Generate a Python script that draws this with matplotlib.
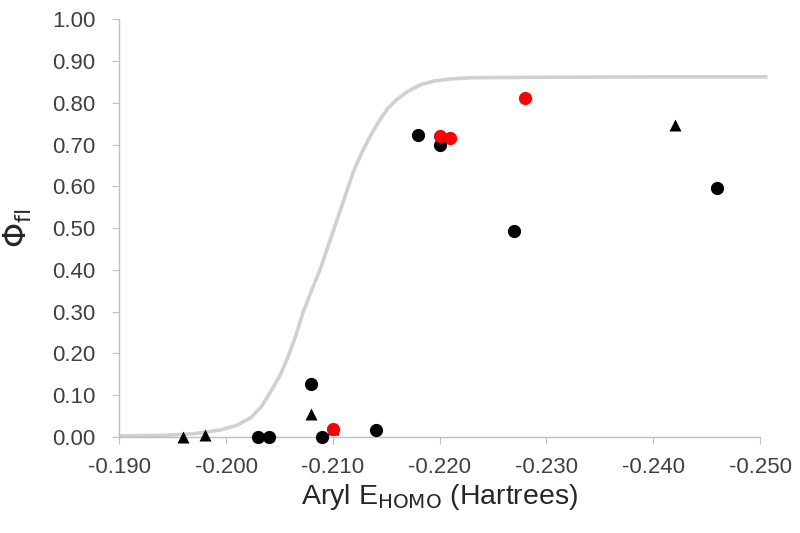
import matplotlib
matplotlib.use("Agg")
import matplotlib.pyplot as plt

# data
circ_x = [-0.203, -0.204, -0.208, -0.209, -0.214, -0.218, -0.220, -0.227, -0.246]
circ_y = [0.000, 0.000, 0.127, 0.000, 0.018, 0.722, 0.698, 0.493, 0.597]

tri_x = [-0.196, -0.198, -0.208, -0.210, -0.242]
tri_y = [0.000, 0.005, 0.055, 0.020, 0.746]

red_x = [-0.210, -0.220, -0.221, -0.228]
red_y = [0.020, 0.720, 0.716, 0.812]

# fitted curve
curve_x = [-0.1900, -0.1940, -0.1970, -0.1995, -0.2010, -0.2023, -0.2033, -0.2041,
           -0.2050, -0.2057, -0.2065, -0.2072, -0.2080, -0.2088, -0.2096, -0.2104,
           -0.2112, -0.2119, -0.2127, -0.2135, -0.2143, -0.2151, -0.2160, -0.2170,
           -0.2182, -0.2195, -0.2210, -0.2230, -0.2300, -0.2400, -0.2507]
curve_y = [0.003, 0.004, 0.008, 0.017, 0.028, 0.046, 0.072, 0.105,
           0.145, 0.185, 0.240, 0.297, 0.350, 0.400, 0.460, 0.520,
           0.580, 0.633, 0.680, 0.720, 0.755, 0.785, 0.808, 0.827,
           0.843, 0.852, 0.857, 0.860, 0.861, 0.862, 0.862]

xticks = [-0.190, -0.200, -0.210, -0.220, -0.230, -0.240, -0.250]
yticks = [0.0, 0.1, 0.2, 0.3, 0.4, 0.5, 0.6, 0.7, 0.8, 0.9, 1.0]

plt.rcParams["font.family"] = ["Liberation Sans", "DejaVu Sans"]

fig = plt.figure(figsize=(8, 5.33), dpi=100, facecolor="white")
ax = fig.add_axes([0.149, 0.180, 0.801, 0.784])

ax.plot(curve_x, curve_y, color="#d0d0d0", lw=2.6, clip_on=False, zorder=1,
        solid_capstyle="butt")
ax.plot(circ_x, circ_y, "o", color="black", ms=9.5, mec="none", zorder=3, clip_on=False)
ax.plot(tri_x, tri_y, "^", color="black", ms=9, mec="none", zorder=3, clip_on=False)
ax.plot(red_x, red_y, "o", color="#ff0000", ms=9.5, mec="none", zorder=4, clip_on=False)

ax.set_xlim(-0.190, -0.250)
ax.set_ylim(0, 1.0)
ax.set_xticks(xticks)
ax.set_yticks(yticks)
ax.set_xticklabels([f"{v:.3f}" for v in xticks])
ax.set_yticklabels([f"{v:.2f}" for v in yticks])

for s in ("top", "right"):
    ax.spines[s].set_visible(False)
for s in ("left", "bottom"):
    ax.spines[s].set_color("#bfbfbf")
    ax.spines[s].set_linewidth(1.0)
ax.tick_params(direction="out", length=5, color="#bfbfbf", labelsize=16,
               labelcolor="#404040")
ax.tick_params(axis="y", pad=12)
ax.tick_params(axis="x", pad=9)

ax.set_xlabel(r"Aryl E$_{\mathrm{HOMO}}$ (Hartrees)", fontsize=20.5, color="#262626",
              labelpad=3)
ax.set_ylabel(r"$\Phi_{\mathrm{fl}}$", fontsize=23, color="#262626", labelpad=13)

fig.savefig("out.png", dpi=100, facecolor="white")
